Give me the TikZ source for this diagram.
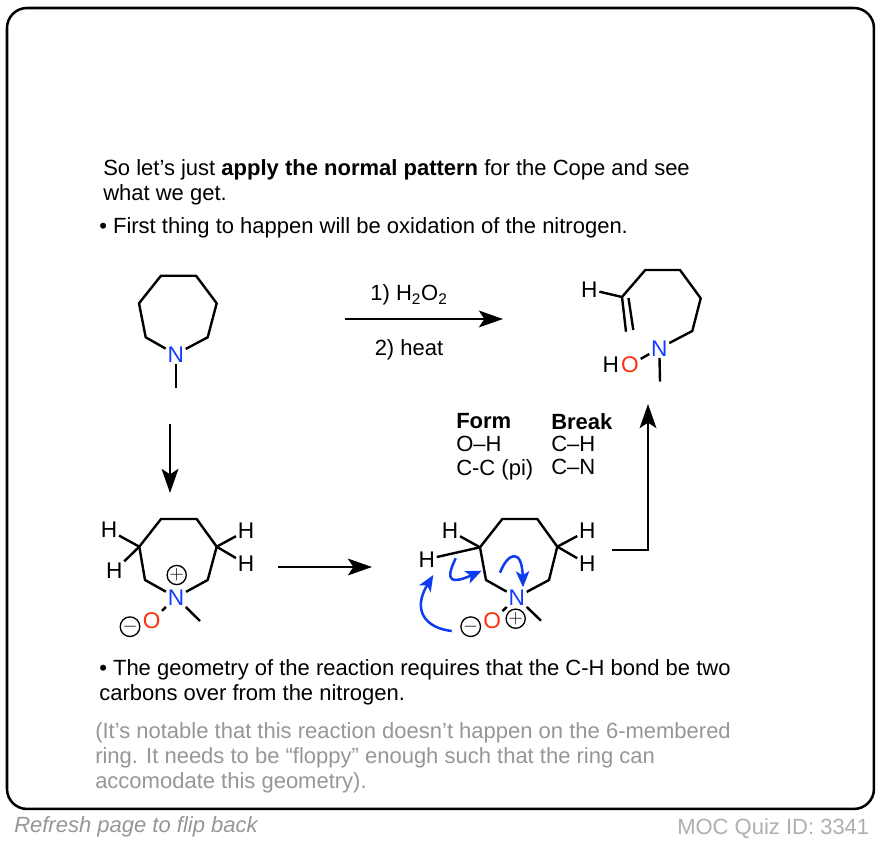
\documentclass[tikz,border=0pt]{standalone}
\usepackage{fontspec}
\setmainfont{Liberation Sans}
\usetikzlibrary{arrows.meta, positioning}
\definecolor{n_blue}{RGB}{20, 60, 255}
\definecolor{o_red}{RGB}{255, 45, 10}
\definecolor{curl_blue}{RGB}{15, 60, 240}
\definecolor{note_gray}{RGB}{150, 150, 150}
\definecolor{id_gray}{RGB}{175, 175, 175}

\begin{document}
\begin{tikzpicture}[
    x=0.75pt, y=-0.75pt,
    panel/.style={
        draw=black,
        line width=1.9pt,
        rounded corners=15pt,
        outer sep=0pt
    },
    para/.style={
        anchor=north west,
        inner sep=0pt,
        align=left,
        font=\fontsize{16.5}{18.7}\selectfont,
        text=#1
    },
    para/.default=black,
    atom/.style={
        inner sep=1.2pt,
        font=\fontsize{17}{17}\selectfont,
        text=#1
    },
    atom/.default=black,
    charge/.style={
        circle,
        draw=black,
        line width=1pt,
        minimum size=13pt,
        inner sep=0pt,
        font=\fontsize{14}{14}\selectfont
    },
    bond/.style={
        line width=1.8pt,
        line join=round
    },
    react/.style={
        -{Stealth[length=18pt,width=12.5pt,inset=4pt]},
        line width=2pt
    },
    curl/.style={
        -{Stealth[length=12pt,width=10pt,inset=3pt]},
        line width=1.9pt,
        curl_blue
    },
]
\useasboundingbox (0,0) rectangle (882,842);
\node[panel, minimum width=650.2pt, minimum height=600.7pt, anchor=north west] (frame) at (7,8) {};

\node[para] (intro) at (103,159.5) {So let’s just \textbf{apply the normal pattern} for the Cope and see\\what we get.};
\node[para] (first) at (99,217) {• First thing to happen will be oxidation of the nitrogen.};
\node[para] (geom) at (99,659.5) {• The geometry of the reaction requires that the C-H bond be two\\carbons over from the nitrogen.};
\node[para=note_gray] (note) at (95,722) {(It’s notable that this reaction doesn’t happen on the 6-membered\\ring. It needs to be “floppy” enough such that the ring can\\accomodate this geometry).};
\node[para=note_gray, font=\fontsize{16.5}{18}\selectfont\itshape] (refresh) at (14,816) {Refresh page to flip back};
\node[para=id_gray] (quiz) at (677,818) {MOC Quiz ID: 3341};

% Starting amine
\node[atom=n_blue] (a_n) at (175.7,354.3) {N};
\coordinate (a1) at (145.7,337.3);
\coordinate (a2) at (139,303.3);
\coordinate (a3) at (161,275.7);
\coordinate (a4) at (196,275.7);
\coordinate (a5) at (216.7,303.3);
\coordinate (a6) at (207.7,337.3);
\coordinate (a_me) at (175.7,387.7);
\draw[bond] (a_n) -- (a1) -- (a2) -- (a3) -- (a4) -- (a5) -- (a6) -- (a_n);
\draw[bond] (a_n) -- (a_me);

% Ring-opened product
\node[atom=n_blue] (p_n) at (659.3,348.3) {N};
\node[atom=o_red] (p_o) at (630,365) {O};
\node[atom, anchor=east, inner sep=0pt] (p_oh) at (p_o.west) {H};
\node[atom] (p_h) at (589.3,289.3) {H};
\coordinate (p1) at (692.3,331);
\coordinate (p2) at (700.7,298.3);
\coordinate (p3) at (680,270);
\coordinate (p4) at (645.3,270);
\coordinate (p5) at (622,297);
\coordinate (p5b) at (628.5,298);
\coordinate (p6) at (626,331.7);
\coordinate (p7) at (633.3,330);
\coordinate (p_me) at (660,381.7);
\draw[bond] (p_n) -- (p1) -- (p2) -- (p3) -- (p4) -- (p5) -- (p6);
\draw[bond] (p5b) -- (p7);
\draw[bond] (p5) -- (p_h);
\draw[bond] (p_n) -- (p_o);
\draw[bond] (p_n) -- (p_me);

% N-oxide
\node[atom=n_blue] (b_n) at (176,597.3) {N};
\node[atom=o_red] (b_o) at (151.7,620.7) {O};
\node[charge] (b_minus) at (130,626.7) {$-$};
\node[charge] (b_plus) at (176.7,575) {$+$};
\node[atom] (b_h1) at (109,530) {H};
\node[atom] (b_h2) at (114.3,571) {H};
\node[atom] (b_h3) at (246,530.7) {H};
\node[atom] (b_h4) at (246,564) {H};
\coordinate (b1) at (145,580);
\coordinate (b2) at (139.3,546.7);
\coordinate (b3) at (161,519);
\coordinate (b4) at (196.7,519);
\coordinate (b5) at (216.7,546.7);
\coordinate (b6) at (207.7,580);
\coordinate (b_me) at (200,621);
\draw[bond] (b_n) -- (b1) -- (b2) -- (b3) -- (b4) -- (b5) -- (b6) -- (b_n);
\draw[bond] (b2) -- (b_h1);
\draw[bond] (b2) -- (b_h2);
\draw[bond] (b5) -- (b_h3);
\draw[bond] (b5) -- (b_h4);
\draw[bond] (b_n) -- (b_o);
\draw[bond] (b_n) -- (b_me);

% N-oxide with curved arrows
\node[atom=n_blue] (c_n) at (516.7,597.3) {N};
\node[atom=o_red] (c_o) at (492.3,621) {O};
\node[charge] (c_minus) at (470.7,626.7) {$-$};
\node[charge] (c_plus) at (515.7,618.7) {$+$};
\node[atom] (c_h1) at (450,530.7) {H};
\node[atom] (c_h2) at (426.7,559.3) {H};
\node[atom] (c_h3) at (587.3,530.7) {H};
\node[atom] (c_h4) at (587.3,564) {H};
\coordinate (c1) at (486,580);
\coordinate (c2) at (480,547.3);
\coordinate (c3) at (502.3,519);
\coordinate (c4) at (537.3,519);
\coordinate (c5) at (557.3,546.7);
\coordinate (c6) at (549,580);
\coordinate (c_me) at (541,620.7);
\draw[bond] (c_n) -- (c1) -- (c2) -- (c3) -- (c4) -- (c5) -- (c6) -- (c_n);
\draw[bond] (c2) -- (c_h1);
\draw[bond] (c2) -- (c_h2);
\draw[bond] (c5) -- (c_h3);
\draw[bond] (c5) -- (c_h4);
\draw[bond] (c_n) -- (c_o);
\draw[bond] (c_n) -- (c_me);

\coordinate (curl1_s) at (451.7,631);
\coordinate (curl1_e) at (433.3,575);
\coordinate (curl2_s) at (455.7,558.3);
\coordinate (curl2_e) at (481.7,570.7);
\coordinate (curl3_s) at (500,572.7);
\coordinate (curl3_e) at (523,587.3);
\draw[curl] (curl1_s) .. controls (425,628) and (412,610) .. (curl1_e);
\draw[curl] (curl2_s) .. controls (444,582) and (452,584) .. (curl2_e);
\draw[curl] (curl3_s) .. controls (508,552) and (522,548) .. (curl3_e);

% Reaction arrows
\coordinate (top_s) at (345,319);
\coordinate (top_e) at (503,319);
\coordinate (down_s) at (170,424);
\coordinate (down_e) at (170,493);
\coordinate (mid_s) at (278,567);
\coordinate (mid_e) at (372,567);
\coordinate (up_s) at (612,550);
\coordinate (up_e) at (648,404);
\draw[react] (top_s) -- (top_e);
\draw[react] (down_s) -- (down_e);
\draw[react] (mid_s) -- (mid_e);
\draw[react] (up_s) -| (up_e);

\node[para, anchor=center] (reagent1) at (409,295) {1) H\textsubscript{2}O\textsubscript{2}};
\node[para, anchor=center] (reagent2) at (409,350) {2) heat};

\node[para, font=\fontsize{16.5}{17.6}\selectfont] (form) at (456,413) {\textbf{Form}\\O–H\\C-C (pi)};
\node[para, font=\fontsize{16.5}{17}\selectfont] (break) at (551,413) {\textbf{Break}\\C–H\\C–N};
\end{tikzpicture}
\end{document}
